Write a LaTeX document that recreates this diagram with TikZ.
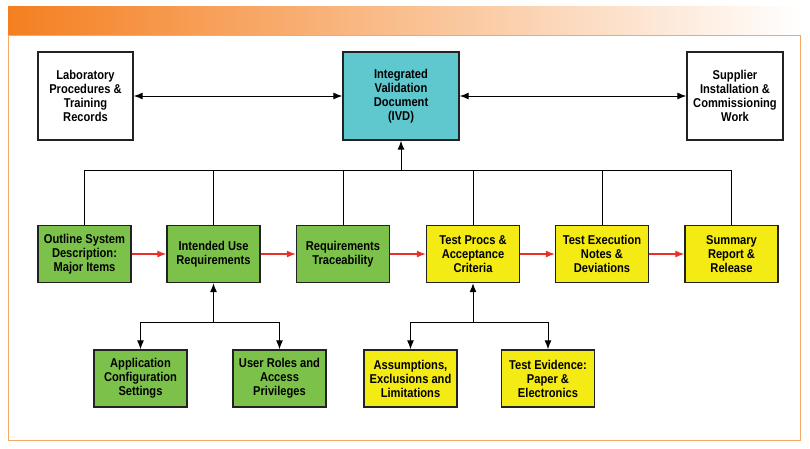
\documentclass[tikz,border=0pt]{standalone}
\usepackage{fontspec}
\setmainfont{Liberation Sans}[FakeStretch=0.87]
\usepackage{tikz}
\usetikzlibrary{calc,positioning,arrows.meta}

\definecolor{barorange}{HTML}{F47F20}
\definecolor{frameorange}{HTML}{F6A865}
\definecolor{ivdteal}{HTML}{5FC8CF}
\definecolor{stagegreen}{HTML}{7CC24A}
\definecolor{stageyellow}{HTML}{F4EA14}
\definecolor{flowred}{HTML}{E8312A}
\definecolor{boxline}{HTML}{222222}

\tikzset{
	box/.style={draw=boxline, line width=1.4pt, align=center, inner sep=0pt,
		font=\bfseries\fontsize{12.8}{14}\selectfont},
	topbox/.style={box, minimum height=88pt},
	stage/.style={box, minimum width=93pt, minimum height=57pt},
	link/.style={line width=1pt, black},
	tip/.style={-{Latex[length=9pt,width=7pt]}},
	flow/.style={line width=1.1pt, flowred, -{Latex[length=9pt,width=7pt]}}
}

\begin{document}
\begin{tikzpicture}[x=1pt,y=-1pt]
			\useasboundingbox (0,0) rectangle (810,448);
			% header bar and frame
			\shade[left color=barorange, right color=white] (8,6) rectangle (802,35);
			\draw[frameorange, line width=1pt] (8,35) rectangle (800,440);

			% top row
			\node[topbox, minimum width=95pt] (lab) at (85.5,96) {Laboratory\\Procedures \&\\Training\\Records};
			\node[topbox, minimum width=116pt, fill=ivdteal] (ivd) at (401,96) {Integrated\\Validation\\Document\\(IVD)};
			\node[topbox, minimum width=96pt] (sup) at (735,96) {Supplier\\Installation \&\\Commissioning\\Work};
			\draw[link, {Latex[length=9pt,width=7pt]}-{Latex[length=9pt,width=7pt]}] (lab.east) -- (ivd.west);
			\draw[link, {Latex[length=9pt,width=7pt]}-{Latex[length=9pt,width=7pt]}] (ivd.east) -- (sup.west);

			% stage row
			\node[stage, fill=stagegreen] (outline) at (84.5,254) {Outline System\\Description:\\Major Items};
			\node[stage, fill=stagegreen] (intended) at (213.5,254) {Intended Use\\Requirements};
			\node[stage, fill=stagegreen] (trace) at (343,254) {Requirements\\Traceability};
			\node[stage, fill=stageyellow] (procs) at (473,254) {Test Procs \&\\Acceptance\\Criteria};
			\node[stage, fill=stageyellow] (exec) at (602,254) {Test Execution\\Notes \&\\Deviations};
			\node[stage, fill=stageyellow] (summary) at (731.5,254) {Summary\\Report \&\\Release};

			\foreach \a/\b in {outline/intended,intended/trace,trace/procs,procs/exec,exec/summary} {
				\draw[flow] (\a.east) -- (\b.west);
			};

			% bus up to the IVD
			\coordinate (busl) at (outline.north |- 0,170);
			\coordinate (busr) at (summary.north |- 0,170);
			\draw[link] (busl) -- (busr);
			\foreach \s in {outline,intended,trace,procs,exec,summary} {
				\draw[link] (\s.north) -- (\s.north |- busl);
			};
			\draw[link, tip] (ivd.south |- busl) -- (ivd.south);

			% bottom row
			\node[stage, fill=stagegreen] (config) at (140.5,378.5) {Application\\Configuration\\Settings};
			\node[stage, fill=stagegreen] (roles) at (279.5,378.5) {User Roles and\\Access\\Privileges};
			\node[stage, fill=stageyellow] (assume) at (410.5,378.5) {Assumptions,\\Exclusions and\\Limitations};
			\node[stage, fill=stageyellow] (evidence) at (548,378.5) {Test Evidence:\\Paper \&\\Electronics};

			\foreach \p/\l/\r in {intended/config/roles,procs/assume/evidence} {
				\coordinate (hub) at (\p.south |- 0,322);
				\draw[link, tip] (hub) -- (\p.south);
				\draw[link, tip] (hub) -| (\l.north);
				\draw[link, tip] (hub) -| (\r.north);
			};
		\end{tikzpicture}
\end{document}
